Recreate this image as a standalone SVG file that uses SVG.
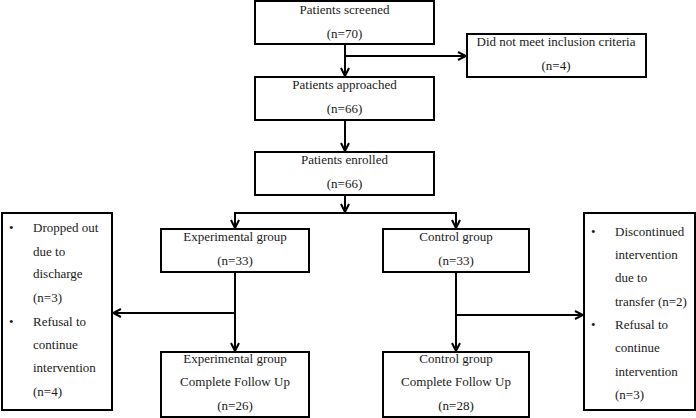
<svg xmlns="http://www.w3.org/2000/svg" width="696" height="418" viewBox="0 0 696 418">
<defs>
<style>
.box{fill:#fff;stroke:#000;stroke-width:2}
.c{fill:none;stroke:#000;stroke-width:2}
text{font-family:'Liberation Serif','Times New Roman','DejaVu Serif',serif;font-size:13px;fill:#1a1a1a}
.m{text-anchor:middle}
</style>
<marker id="ah" viewBox="0 0 10 10" refX="9" refY="5" markerWidth="10" markerHeight="10" markerUnits="userSpaceOnUse" orient="auto">
<polyline points="1,1 9,5 1,9" fill="none" stroke="#000" stroke-width="2"/>
</marker>
</defs>
<rect width="696" height="418" fill="#fff"/>
<g id="connectors">
<line class="c" x1="345" y1="44" x2="345" y2="76" marker-end="url(#ah)"/>
<line class="c" x1="345" y1="56" x2="466" y2="56" marker-end="url(#ah)"/>
<line class="c" x1="345" y1="120" x2="345" y2="151" marker-end="url(#ah)"/>
<line class="c" x1="345" y1="195" x2="345" y2="212" marker-end="url(#ah)"/>
<polyline class="c" points="235,228 235,213 456,213 456,228"/>
<line class="c" x1="235" y1="220" x2="235" y2="228" marker-end="url(#ah)"/>
<line class="c" x1="456" y1="220" x2="456" y2="228" marker-end="url(#ah)"/>
<line class="c" x1="235" y1="272" x2="235" y2="351" marker-end="url(#ah)"/>
<line class="c" x1="235" y1="313" x2="113" y2="313" marker-end="url(#ah)"/>
<line class="c" x1="456" y1="272" x2="456" y2="351" marker-end="url(#ah)"/>
<line class="c" x1="456" y1="315" x2="583" y2="315" marker-end="url(#ah)"/>
</g>
<g id="screened">
<rect class="box" x="255" y="1" width="179" height="43"/>
<text class="m" x="344.5" y="14">Patients screened</text>
<text class="m" x="344.5" y="38">(n=70)</text>
</g>
<g id="excluded">
<rect class="box" x="467" y="34" width="179" height="43"/>
<text class="m" x="556" y="46">Did not meet inclusion criteria</text>
<text class="m" x="556" y="70">(n=4)</text>
</g>
<g id="approached">
<rect class="box" x="255" y="77" width="179" height="43"/>
<text class="m" x="344.5" y="89">Patients approached</text>
<text class="m" x="344.5" y="113">(n=66)</text>
</g>
<g id="enrolled">
<rect class="box" x="255" y="152" width="179" height="43"/>
<text class="m" x="344.5" y="164">Patients enrolled</text>
<text class="m" x="344.5" y="188">(n=66)</text>
</g>
<g id="experimental">
<rect class="box" x="161" y="229" width="148" height="43"/>
<text class="m" x="235" y="241">Experimental group</text>
<text class="m" x="235" y="265">(n=33)</text>
</g>
<g id="control">
<rect class="box" x="383" y="229" width="146" height="43"/>
<text class="m" x="456" y="241">Control group</text>
<text class="m" x="456" y="265">(n=33)</text>
</g>
<g id="exp-followup">
<rect class="box" x="161" y="352" width="148" height="65"/>
<text class="m" x="235" y="363">Experimental group</text>
<text class="m" x="235" y="386">Complete Follow Up</text>
<text class="m" x="235" y="410">(n=26)</text>
</g>
<g id="ctrl-followup">
<rect class="box" x="383" y="352" width="146" height="65"/>
<text class="m" x="456" y="363">Control group</text>
<text class="m" x="456" y="386">Complete Follow Up</text>
<text class="m" x="456" y="410">(n=28)</text>
</g>
<g id="exp-dropouts">
<rect class="box" x="2" y="213" width="110" height="197"/>
<text x="9" y="232">•</text>
<text x="33" y="232">Dropped out</text>
<text x="33" y="256">due to</text>
<text x="33" y="278">discharge</text>
<text x="33" y="302">(n=3)</text>
<text x="9" y="326">•</text>
<text x="33" y="326">Refusal to</text>
<text x="33" y="349">continue</text>
<text x="33" y="372">intervention</text>
<text x="33" y="396">(n=4)</text>
</g>
<g id="ctrl-dropouts">
<rect class="box" x="584" y="213" width="111" height="197"/>
<text x="591" y="236">•</text>
<text x="615" y="236">Discontinued</text>
<text x="615" y="259">intervention</text>
<text x="615" y="282">due to</text>
<text x="615" y="306">transfer (n=2)</text>
<text x="591" y="329">•</text>
<text x="615" y="329">Refusal to</text>
<text x="615" y="352">continue</text>
<text x="615" y="376">intervention</text>
<text x="615" y="399">(n=3)</text>
</g>
</svg>
